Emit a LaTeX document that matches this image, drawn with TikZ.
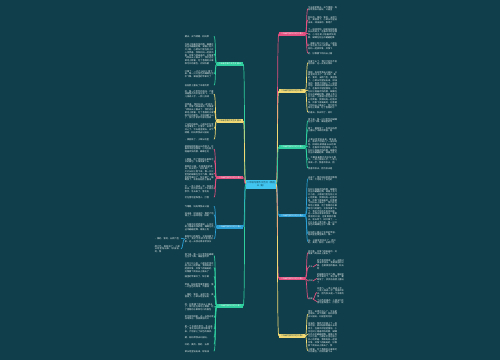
\documentclass[tikz,border=0pt]{standalone}
\usepackage{fontspec}
\usepackage{xstring}
\newfontfamily\cjk{Noto Sans CJK SC}
\XeTeXlinebreaklocale "zh"
\XeTeXlinebreakskip=0pt plus 0.5pt
\definecolor{bgc}{HTML}{103E4A}
\definecolor{cpink}{HTML}{E4507F}
\definecolor{cyellow}{HTML}{F2D974}
\definecolor{cgreen}{HTML}{2FCF9F}
\definecolor{cblue}{HTML}{2A9FD6}
\definecolor{ccyan}{HTML}{40C4F0}
\definecolor{ltxt}{HTML}{E8EFF0}
\def\passage{今天是星期天，天气晴朗，妈妈带我去公园玩。公园里的花开了，有红的、黄的、紫的，五颜六色，美丽极了。小草从地里钻出来，绿油油的，像给大地铺上了一层绿地毯。柳树姑娘梳着长长的辫子，在春风中轻轻摆动。小鸟在树上唱着欢快的歌，蝴蝶在花丛中翩翩起舞。湖面上有几只小船，小朋友们坐在船上开心地笑着。我和妈妈一起放风筝，风筝飞得高高的，好像要飞到白云上面去了。我们还在草地上野餐，吃了香甜的水果和可口的面包。太阳快要下山了，我们才依依不舍地回家。这一天我过得非常快乐，我爱美丽的公园，也爱美丽的春天。秋天到了，树叶黄了，一片片从树上落下来，像一只只金色的蝴蝶在空中飞舞。果园里的苹果红了，梨子黄了，葡萄紫了，农民伯伯脸上露出了丰收的笑容。稻田里金黄金黄的，像一片金色的海洋。大雁排着整齐的队伍往南飞，一会儿排成人字，一会儿排成一字。我喜欢秋天，因为秋天是一个丰收的季节。冬天来了，雪花纷纷扬扬地飘落下来，大地穿上了白色的棉衣。小朋友们在雪地里堆雪人、打雪仗，玩得可开心了。}
\edef\basetext{\passage\passage}
\newcommand\blk[2]{\StrMid{\basetext}{#2}{\the\numexpr#2+#1*13-3\relax}}
\newcommand\cR[3]{\draw[#1,conn] (#2.east) .. controls +(2,0) and +(-2,0) .. (#3.west);}
\newcommand\cL[3]{\draw[#1,conn] (#2.west) .. controls +(-2,0) and +(2,0) .. (#3.east);}
\newcommand\leafR[7]{\node[leaf,anchor=north west] (#1) at (#4,#5) {\blk{#6}{#7}};
  \cR{#2}{#3}{#1}}
\newcommand\leafL[7]{\node[leaf,anchor=north east] (#1) at (#4,#5) {\blk{#6}{#7}};
  \cL{#2}{#3}{#1}}
\tikzset{
  leaf/.style={text width=29pt, inner sep=0pt, align=left, text=ltxt,
    font=\cjk\fontsize{2.2}{2.75}\selectfont},
  conn/.style={line width=0.7pt},
  bnode/.style={minimum width=26pt, minimum height=3.6pt, inner sep=0pt,
    font=\cjk\fontsize{2}{2.4}\selectfont},
  cnode/.style={text width=29pt, minimum height=9pt, inner sep=0.5pt, align=center,
    fill=ccyan, text=bgc, font=\cjk\fontsize{2.3}{3}\selectfont},
  subl/.style={inner sep=0pt, text=ltxt, font=\cjk\fontsize{2}{2.4}\selectfont},
}
\begin{document}
\begin{tikzpicture}[x=1pt,y=-1pt]
\fill[bgc] (0,0) rectangle (500,360);
\useasboundingbox (0,0) rectangle (500,360);
% center
\node[cnode] (C) at (261,184) {二年级写景作文范文（精选\\11篇）};
% right branches
\node[bnode,fill=cpink,text=white] (R1) at (292,33.7) {二年级写景作文范文 篇1};
\node[bnode,fill=cyellow,text=bgc] (R2) at (292,91) {二年级写景作文范文 篇2};
\node[bnode,fill=cgreen,text=white] (R3) at (292,147) {二年级写景作文范文 篇3};
\node[bnode,fill=cblue,text=white] (R4) at (292,215.5) {二年级写景作文范文 篇4};
\node[bnode,fill=cpink,text=white] (R5) at (292,278.5) {二年级写景作文范文 篇5};
\node[bnode,fill=cyellow,text=bgc] (R6) at (292,336) {二年级写景作文范文 篇6};
% left branches
\node[bnode,fill=cgreen,text=white] (L1) at (230,64) {二年级写景作文范文 篇11};
\node[bnode,fill=cyellow,text=bgc] (L2) at (230,121) {二年级写景作文范文 篇10};
\node[bnode,fill=cpink,text=white] (L3) at (230,177.5) {二年级写景作文范文 篇9};
\node[bnode,fill=cblue,text=white] (L4) at (230,227) {二年级写景作文范文 篇8};
\node[bnode,fill=cgreen,text=white] (L5) at (230,306) {二年级写景作文范文 篇7};
% trunks
\foreach \n/\c in {R1/cpink,R2/cyellow,R3/cgreen,R4/cblue,R5/cpink,R6/cyellow}
  {\cR{\c}{C}{\n}}
\foreach \n/\c in {L1/cgreen,L2/cyellow,L3/cpink,L4/cblue,L5/cgreen}
  {\cL{\c}{C}{\n}}
% R1
\leafR{r1a}{cpink}{R1}{308}{6}{2}{1}
\leafR{r1b}{cpink}{R1}{308}{16}{3}{30}
\leafR{r1c}{cpink}{R1}{308}{28}{4}{70}
\leafR{r1d}{cpink}{R1}{308}{42}{3}{120}
\leafR{r1e}{cpink}{R1}{308}{52}{1}{160}
% R2
\leafR{r2a}{cyellow}{R2}{308}{60}{2}{200}
\leafR{r2b}{cyellow}{R2}{308}{71}{14}{10}
\leafR{r2c}{cyellow}{R2}{308}{111}{1}{240}
% R3
\leafR{r3a}{cgreen}{R3}{308}{118}{2}{260}
\leafR{r3b}{cgreen}{R3}{308}{127}{2}{290}
\leafR{r3c}{cgreen}{R3}{308}{138}{6}{50}
\leafR{r3d}{cgreen}{R3}{308}{156}{3}{330}
\leafR{r3e}{cgreen}{R3}{308}{167}{1}{360}
% R4
\leafR{r4a}{cblue}{R4}{308}{176}{2}{380}
\leafR{r4b}{cblue}{R4}{308}{188}{14}{100}
\leafR{r4c}{cblue}{R4}{308}{231}{2}{300}
\leafR{r4d}{cblue}{R4}{308}{239}{2}{20}
% R5
\leafR{r5a}{cpink}{R5}{308}{250}{2}{150}
\node[subl,anchor=west] (s1) at (308.5,267) {开头};
\node[subl,anchor=west] (s2) at (308.5,281) {中间};
\node[subl,anchor=west] (s3) at (308.5,299) {结尾};
\cR{cpink}{R5}{s1}
\cR{cpink}{R5}{s2}
\cR{cpink}{R5}{s3}
\begin{scope}[leaf/.append style={text width=27pt}]
\leafR{r5b}{cpink}{s1}{317}{259}{3}{210}
\leafR{r5c}{cpink}{s2}{317}{273}{3}{270}
\leafR{r5d}{cpink}{s3}{317}{287}{3}{340}
\leafR{r5e}{cpink}{s3}{317}{299}{2}{400}
\end{scope}
% R6
\leafR{r6a}{cyellow}{R6}{308}{310}{3}{420}
\leafR{r6b}{cyellow}{R6}{308}{322}{9}{60}
\leafR{r6c}{cyellow}{R6}{308}{348}{2}{180}
% L1
\leafL{l1a}{cgreen}{L1}{214}{35}{1}{5}
\leafL{l1b}{cgreen}{L1}{214}{43}{8}{100}
\leafL{l1c}{cgreen}{L1}{214}{70}{3}{250}
\leafL{l1d}{cgreen}{L1}{214}{84}{1}{300}
% L2
\leafL{l2a}{cyellow}{L2}{214}{90}{3}{320}
\leafL{l2b}{cyellow}{L2}{214}{103}{6}{140}
\leafL{l2c}{cyellow}{L2}{214}{123}{4}{400}
\leafL{l2d}{cyellow}{L2}{214}{138}{1}{44}
% L3
\leafL{l3a}{cpink}{L3}{214}{145}{3}{77}
\leafL{l3b}{cpink}{L3}{214}{158}{2}{180}
\leafL{l3c}{cpink}{L3}{214}{165}{6}{230}
\leafL{l3d}{cpink}{L3}{214}{185}{3}{350}
\leafL{l3e}{cpink}{L3}{214}{196}{1}{410}
% L4
\leafL{l4a}{cblue}{L4}{214}{205}{1}{9}
\leafL{l4b}{cblue}{L4}{214}{212}{2}{55}
\leafL{l4c}{cblue}{L4}{214}{223}{3}{88}
\leafL{l4d}{cblue}{L4}{214}{235}{3}{190}
\begin{scope}[leaf/.append style={text width=26pt}]
\leafL{l4e}{cblue}{l4d}{181}{237}{1}{33}
\leafL{l4f}{cblue}{l4d}{181}{245}{2}{470}
\end{scope}
% L5
\leafL{l5a}{cgreen}{L5}{214}{253}{2}{260}
\leafL{l5b}{cgreen}{L5}{214}{262}{4}{123}
\leafL{l5c}{cgreen}{L5}{214}{275}{1}{280}
\leafL{l5d}{cgreen}{L5}{214}{283}{2}{310}
\leafL{l5e}{cgreen}{L5}{214}{293}{2}{33}
\leafL{l5f}{cgreen}{L5}{214}{303}{3}{160}
\leafL{l5g}{cgreen}{L5}{214}{315}{2}{210}
\leafL{l5h}{cgreen}{L5}{214}{325}{3}{370}
\leafL{l5i}{cgreen}{L5}{214}{336}{1}{440}
\leafL{l5j}{cgreen}{L5}{214}{343}{1}{460}
\leafL{l5k}{cgreen}{L5}{214}{350}{1}{480}
\end{tikzpicture}
\end{document}
